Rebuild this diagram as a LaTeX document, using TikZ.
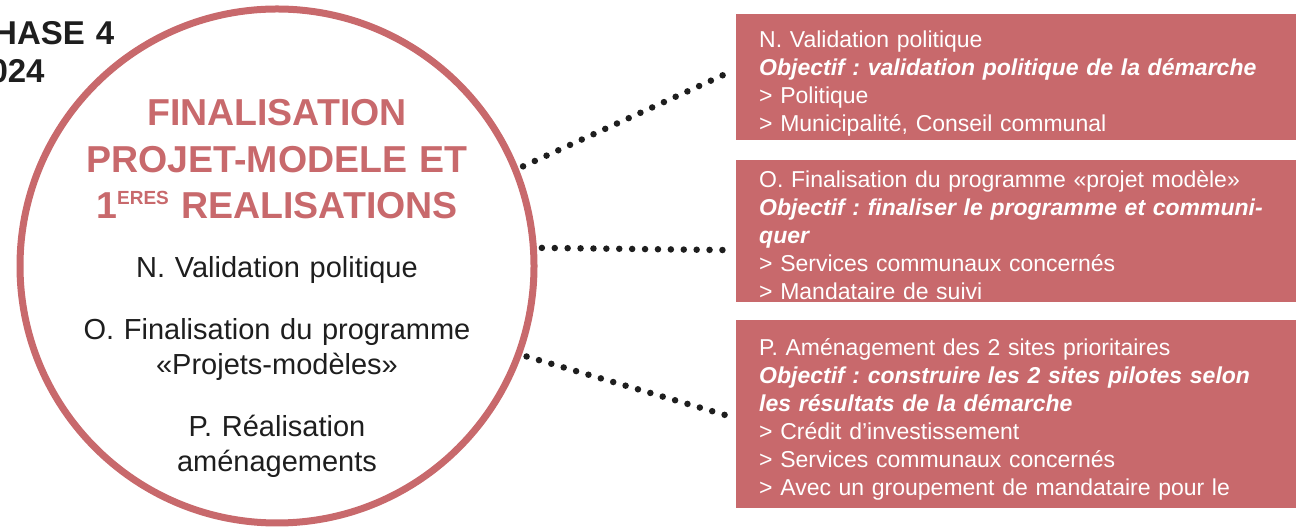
\documentclass[tikz,border=0pt]{standalone}
\usepackage{fontspec}
\setmainfont{Liberation Sans}
\frenchspacing
\usetikzlibrary{positioning}
\definecolor{phasered}{RGB}{200,105,108}
\definecolor{inkgray}{RGB}{30,30,30}
\tikzset{
  etape/.style={fill=phasered, text=white, anchor=north west, text width=514pt,
    align=left, inner xsep=23pt, inner ysep=0pt, font=\fontsize{23}{28}\selectfont},
  lien/.style={draw=inkgray, line width=6.5pt, line cap=round,
    dash pattern=on 0pt off 12.9pt, shorten <=5pt, shorten >=3pt},
  titre/.style={text=phasered, text width=470pt, align=center, inner sep=0pt,
    font=\bfseries\fontsize{37.5}{46.5}\selectfont},
  item/.style={text=inkgray, text width=420pt, align=center, inner sep=0pt,
    font=\fontsize{29}{35}\selectfont}
}
\newcommand{\obj}[1]{\textbf{\textit{#1}}}
\begin{document}
\begin{tikzpicture}[x=1pt,y=1pt]
  \useasboundingbox (0,0) rectangle (1300,529);
  % phase
  \node[anchor=base west, text width=200pt, align=left, inner sep=0pt, text=inkgray,
    font=\bfseries\fontsize{33}{38}\selectfont] (phase) at (-29,484) {PHASE 4\\2024};
  % cercle
  \node[draw=phasered, line width=7pt, circle, minimum size=514pt, inner sep=0pt] (cercle) at (277,263) {};
  \node[titre, anchor=base] (titre) at (277,403) {FINALISATION\\PROJET-MODELE ET\\
    1\raisebox{14pt}{\fontsize{19}{19}\selectfont ERES} REALISATIONS};
  \node[item, anchor=base] (itemN) at (277,251) {N. Validation politique};
  \node[item, anchor=base] (itemO) at (277,189) {O. Finalisation du programme\\«Projets-modèles»};
  \node[item, anchor=base] (itemP) at (277,92) {P. Réalisation\\aménagements};
  % etapes
  \node[etape, text height=33pt, text depth=93pt] (boxN) at (736,515)
    {N. Validation politique\\\obj{Objectif : validation politique de la démarche}\\> Politique\\> Municipalité, Conseil communal};
  \node[etape, text height=27pt, text depth=115pt] (boxO) at (736,369)
    {O. Finalisation du programme «projet modèle»\\\obj{Objectif : finaliser le programme et communi-}\\\obj{quer}\\> Services communaux concernés\\> Mandataire de suivi};
  \node[etape, text height=35pt, text depth=153pt] (boxP) at (736,209)
    {P. Aménagement des 2 sites prioritaires\\\obj{Objectif : construire les 2 sites pilotes selon}\\\obj{les résultats de la démarche}\\> Crédit d’investissement\\> Services communaux concernés\\> Avec un groupement de mandataire pour le};
  % liens
  \draw[lien] (cercle.22) -- ([yshift=8pt]boxN.west);
  \draw[lien] (cercle.4) -- ([yshift=-19pt]boxO.west);
  \draw[lien] (cercle.-20) -- ([yshift=-4pt]boxP.west);
\end{tikzpicture}
\end{document}
